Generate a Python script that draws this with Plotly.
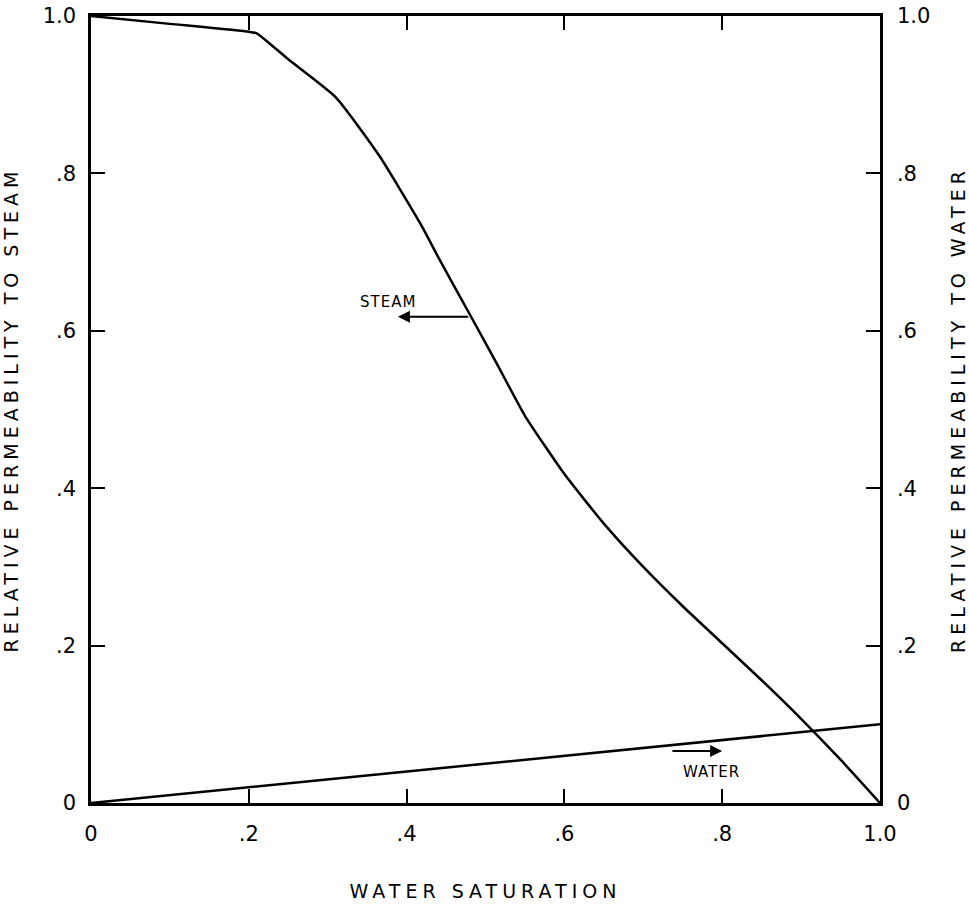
import plotly.graph_objects as go

# Steam relative permeability curve (left axis)
sw_steam = [0.0, 0.10, 0.20, 0.21, 0.25, 0.31, 0.365, 0.417, 0.442, 0.48, 0.515, 0.55, 0.60, 0.65, 0.70, 0.75, 0.80, 0.85, 0.90, 0.95, 1.0]
kr_steam = [1.0, 0.99, 0.98, 0.978, 0.945, 0.897, 0.823, 0.737, 0.69, 0.621, 0.557, 0.492, 0.418, 0.355, 0.30, 0.25, 0.203, 0.156, 0.107, 0.055, 0.0]

# Water relative permeability line (right axis)
sw_water = [0.0, 1.0]
kr_water = [0.0, 0.10]

tick_vals = [0, 0.2, 0.4, 0.6, 0.8, 1.0]
tick_text = ["0", ".2", ".4", ".6", ".8", "1.0"]

FONT = "DejaVu Sans"


def spaced(t, px=3):
    return '<span style="letter-spacing:%dpx">%s</span>' % (px, t)


fig = go.Figure()
fig.add_trace(go.Scatter(x=sw_steam, y=kr_steam, mode="lines",
                         line=dict(color="black", width=2.5, shape="spline", smoothing=0.5),
                         showlegend=False))
fig.add_trace(go.Scatter(x=sw_water, y=kr_water, mode="lines", yaxis="y2",
                         line=dict(color="black", width=2.5), showlegend=False))

# Labels with arrows
fig.add_annotation(x=0.377, y=0.637, text=spaced("STEAM", 1), showarrow=False,
                   font=dict(family=FONT, size=15, color="black"))
fig.add_annotation(x=0.389, y=0.618, ax=0.48, ay=0.618, xref="x", yref="y",
                   axref="x", ayref="y", text="", showarrow=True,
                   arrowhead=2, arrowsize=1.2, arrowwidth=2, arrowcolor="black")
fig.add_annotation(x=0.787, y=0.039, text=spaced("WATER", 1), showarrow=False,
                   font=dict(family=FONT, size=15, color="black"))
fig.add_annotation(x=0.80, y=0.066, ax=0.735, ay=0.066, xref="x", yref="y",
                   axref="x", ayref="y", text="", showarrow=True,
                   arrowhead=2, arrowsize=1.2, arrowwidth=2, arrowcolor="black")

fig.update_layout(
    width=969, height=907,
    margin=dict(l=91, r=89, t=16, b=104),
    paper_bgcolor="white", plot_bgcolor="white",
    font=dict(family=FONT, color="black"),
    xaxis=dict(range=[0, 1], tickvals=tick_vals, ticktext=tick_text,
               ticks="inside", ticklen=14, tickwidth=1.5, tickcolor="black",
               showline=True, linecolor="black", linewidth=2.5, mirror="ticks",
               showgrid=False, zeroline=False, automargin=False,
               tickfont=dict(family=FONT, size=21), ticklabelstandoff=10,
               title=dict(text=spaced("WATER SATURATION", 5), font=dict(family=FONT, size=19),
                          standoff=40)),
    yaxis=dict(range=[0, 1], tickvals=tick_vals, ticktext=tick_text,
               ticks="inside", ticklen=14, tickwidth=1.5, tickcolor="black",
               showline=True, linecolor="black", linewidth=2.5,
               showgrid=False, zeroline=False, automargin=False,
               tickfont=dict(family=FONT, size=21), ticklabelstandoff=8,
               title=dict(text=spaced("RELATIVE PERMEABILITY TO STEAM", 5),
                          font=dict(family=FONT, size=19), standoff=34)),
    yaxis2=dict(range=[0, 1], tickvals=tick_vals, ticktext=tick_text,
                overlaying="y", side="right",
                ticks="inside", ticklen=14, tickwidth=1.5, tickcolor="black",
                showline=True, linecolor="black", linewidth=2.5,
                showgrid=False, zeroline=False, automargin=False,
                tickfont=dict(family=FONT, size=21), ticklabelstandoff=10,
                title=dict(text=spaced("RELATIVE PERMEABILITY TO WATER", 5),
                           font=dict(family=FONT, size=19), standoff=30)),
)

fig.write_html("out.html")
